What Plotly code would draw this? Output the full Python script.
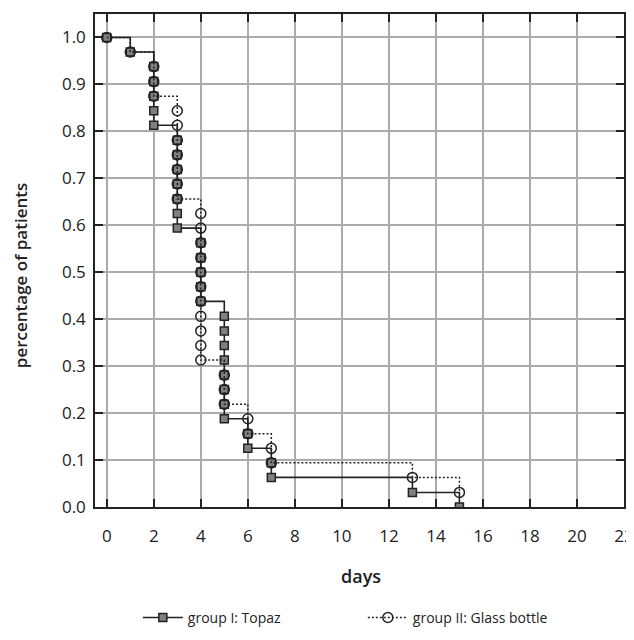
import plotly.graph_objects as go

# Group I: Topaz (Kaplan-Meier steps)
days_topaz = [0, 1, 2, 2, 2, 2, 2, 3, 3, 3, 3, 3, 3, 3, 4, 4, 4, 4, 4,
              5, 5, 5, 5, 5, 5, 5, 5, 6, 6, 7, 7, 13, 15]
surv_topaz = [1.0, 0.969, 0.938, 0.906, 0.875, 0.844, 0.813, 0.781, 0.750,
              0.719, 0.688, 0.656, 0.625, 0.594, 0.563, 0.531, 0.500, 0.469,
              0.438, 0.406, 0.375, 0.344, 0.313, 0.281, 0.250, 0.219, 0.188,
              0.156, 0.125, 0.094, 0.063, 0.031, 0.0]

# Group II: Glass bottle
days_glass = [0, 1, 2, 2, 2, 3, 3, 3, 3, 3, 3, 3, 4, 4, 4, 4, 4, 4, 4, 4,
              4, 4, 4, 5, 5, 5, 6, 6, 7, 7, 13, 15]
surv_glass = [1.0, 0.969, 0.938, 0.906, 0.875, 0.844, 0.813, 0.781, 0.750,
              0.719, 0.688, 0.656, 0.625, 0.594, 0.563, 0.531, 0.500, 0.469,
              0.438, 0.406, 0.375, 0.344, 0.313, 0.281, 0.250, 0.219, 0.188,
              0.156, 0.125, 0.094, 0.063, 0.031]

x_ticks = [0, 2, 4, 6, 8, 10, 12, 14, 16, 18, 20, 22]
y_ticks = [0.0, 0.1, 0.2, 0.3, 0.4, 0.5, 0.6, 0.7, 0.8, 0.9, 1.0]
x_title = "days"
y_title = "percentage of patients"

FONT = "Open Sans"
INK = "#222222"

fig = go.Figure()
fig.add_trace(go.Scatter(
    x=days_topaz, y=surv_topaz, mode="lines+markers", name="group I: Topaz",
    line=dict(color=INK, width=1.6, shape="hv"),
    marker=dict(symbol="square", size=8, color="#808080",
                line=dict(color=INK, width=1.5)),
))
fig.add_trace(go.Scatter(
    x=days_glass, y=surv_glass, mode="lines+markers", name="group II: Glass bottle",
    line=dict(color=INK, width=1.5, shape="hv", dash="2px,2px"),
    marker=dict(symbol="circle-open", size=10, color=INK,
                line=dict(color=INK, width=1.5)),
))

axis_common = dict(
    showgrid=True, gridcolor="#ababab", gridwidth=1.5,
    showline=True, linecolor=INK, linewidth=1.5, mirror="ticks",
    ticks="inside", ticklen=8, tickwidth=1.5, tickcolor=INK,
    tickfont=dict(family=FONT, size=17, color=INK),
    zeroline=False, automargin=False, ticklabeloverflow="allow",
)

fig.update_xaxes(
    range=[-0.5, 22], tickvals=x_ticks, ticktext=[str(v) for v in x_ticks],
    ticklabelstandoff=13, **axis_common,
)
fig.update_yaxes(
    range=[0, 1.05], tickvals=y_ticks, ticktext=[f"{v:.1f}" for v in y_ticks],
    ticklabelstandoff=4, **axis_common,
)

# axis titles
fig.add_annotation(text=x_title, xref="paper", yref="paper", x=0.503, y=-0.139,
                   xanchor="center", yanchor="middle", showarrow=False,
                   font=dict(family=FONT, size=18, color=INK, weight=600))
fig.add_annotation(text=y_title, xref="paper", yref="paper", x=-0.142, y=0.47,
                   xanchor="center", yanchor="middle", showarrow=False, textangle=-90,
                   font=dict(family=FONT, size=17, color=INK, weight=600))

# the page body adds an 8px offset, so the figure is 8px smaller than the window
fig.update_layout(
    width=626, height=632,
    margin=dict(l=87, r=10, t=6, b=123),
    paper_bgcolor="white", plot_bgcolor="white",
    font=dict(family=FONT, size=14, color=INK),
    legend=dict(orientation="h", x=0.081, xanchor="left", y=-0.225, yanchor="middle",
                font=dict(family=FONT, size=14, color=INK),
                entrywidth=170, entrywidthmode="pixels", itemwidth=40),
    showlegend=True,
)

fig.write_html("out.html")
